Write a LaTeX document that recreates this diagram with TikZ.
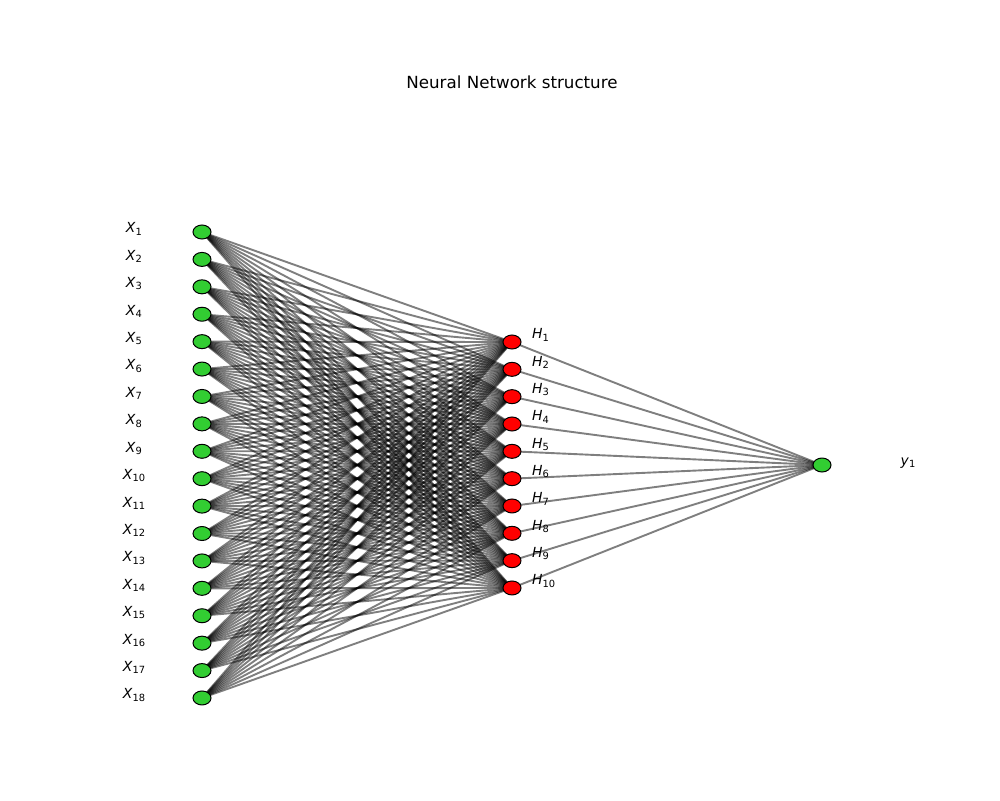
\documentclass[tikz,border=0pt]{standalone}
\usepackage{fontspec}
\setmainfont{DejaVu Sans}
\usetikzlibrary{shapes.geometric}
\pgfdeclarelayer{bg}
\pgfsetlayers{bg,main}
\definecolor{nodegreen}{HTML}{32CD32}
\newcommand\nnlbl[2]{\textit{#1}\raisebox{-2.3pt}{\fontsize{9.9}{10}\selectfont #2}}
\tikzset{
  neuron/.style={ellipse, draw=black, line width=1pt, minimum width=18pt, minimum height=14pt, inner sep=0pt},
  inneuron/.style={neuron, fill=nodegreen},
  hidneuron/.style={neuron, fill=red},
  outneuron/.style={neuron, fill=nodegreen},
  edge/.style={draw=black, opacity=0.5, line width=1.9pt},
  lbl/.style={font=\fontsize{13.9}{16}\selectfont, inner sep=0pt},
  ttl/.style={font=\fontsize{16.7}{20}\selectfont, inner sep=0pt}
}
\begin{document}
\begin{tikzpicture}[x=1pt,y=-1pt]
\useasboundingbox (0,0) rectangle (1000,800);
\node[ttl] (title) at (512,82) {Neural Network structure};
\foreach \i in {1,...,18} {
  \node[inneuron] (in\i) at (202,{232+(\i-1)*27.41}) {};
  \node[lbl] (lx\i) at (134,{229+(\i-1)*27.41}) {\nnlbl{X}{\i}};
}
\foreach \j in {1,...,10} {
  \node[hidneuron] (h\j) at (512,{342+(\j-1)*27.33}) {};
  \node[lbl, anchor=west] (lh\j) at (532,{335+(\j-1)*27.33}) {\nnlbl{H}{\j}};
}
\node[outneuron] (o1) at (822,465) {};
\node[lbl] (ly1) at (908,463) {\nnlbl{y}{1}};
\begin{pgfonlayer}{bg}
\foreach \i in {1,...,18} {
  \foreach \j in {1,...,10} {
    \draw[edge] (in\i.center) -- (h\j.center);
  }
}
\foreach \j in {1,...,10} {
  \draw[edge] (h\j.center) -- (o1.center);
}
\end{pgfonlayer}
\end{tikzpicture}
\end{document}
